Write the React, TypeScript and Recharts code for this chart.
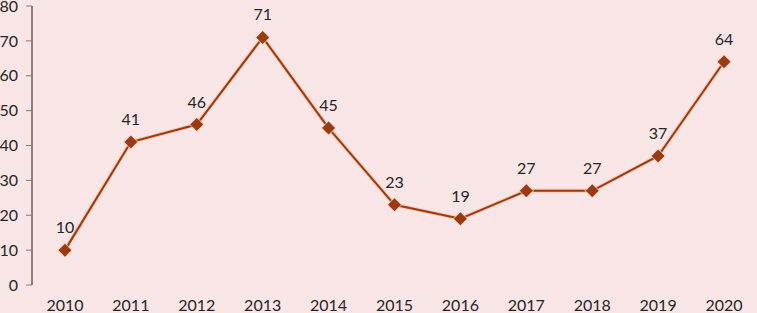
import React from "react";
import { LineChart, Line, XAxis, YAxis, LabelList } from "recharts";

const years = ["2010", "2011", "2012", "2013", "2014", "2015", "2016", "2017", "2018", "2019", "2020"];
const values = [10, 41, 46, 71, 45, 23, 19, 27, 27, 37, 64];
const yTicks = [0, 10, 20, 30, 40, 50, 60, 70, 80];

const data = years.map((y, i) => ({ idx: i, year: y, value: values[i] }));
const centerTicks = years.map((_, i) => i);
const edgeTicks = [...years.map((_, i) => i - 0.5), years.length - 0.5];

const LINE = "#9a3a10";
const TEXT = "#262626";
const FONT = "Lato, 'Open Sans', sans-serif";
const FS = 16;

const Diamond = (props: any) => {
  const { cx, cy } = props;
  if (cx == null || cy == null) return null;
  const r = 6.5;
  return (
    <g>
      <polygon
        points={`${cx},${cy - r - 1.5} ${cx + r + 1.5},${cy} ${cx},${cy + r + 1.5} ${cx - r - 1.5},${cy}`}
        fill="#f6d3c6"
        opacity={0.6}
      />
      <polygon
        points={`${cx},${cy - r} ${cx + r},${cy} ${cx},${cy + r} ${cx - r},${cy}`}
        fill={LINE}
      />
    </g>
  );
};

export default function App() {
  return (
    <div style={{ position: "fixed", left: 0, top: 0, width: 757, height: 313, background: "#f8e5e5" }}>
      <LineChart width={757} height={313} data={data} margin={{ top: 6, right: 0, bottom: 0, left: 0 }}>
        <XAxis
          xAxisId="lab"
          dataKey="idx"
          type="number"
          domain={[-0.5, years.length - 0.5]}
          ticks={centerTicks}
          interval={0}
          tickFormatter={(v: number) => years[v]}
          axisLine={false}
          tickLine={false}
          tickMargin={9}
          height={28}
          tick={{ fill: TEXT, fontSize: FS, fontFamily: FONT }}
        />
        <XAxis
          xAxisId="edge"
          dataKey="idx"
          type="number"
          domain={[-0.5, years.length - 0.5]}
          ticks={edgeTicks}
          interval={0}
          tick={false}
          axisLine={{ stroke: "#1a1a1a" }}
          tickLine={{ stroke: "#7a7a7a" }}
          tickSize={5}
          height={0}
          orientation="bottom"
        />
        <YAxis
          domain={[0, 80]}
          ticks={yTicks}
          interval={0}
          width={32}
          axisLine={{ stroke: "#1a1a1a" }}
          tickLine={{ stroke: "#7a7a7a" }}
          tickSize={6}
          tickMargin={8}
          tick={{ fill: TEXT, fontSize: FS, fontFamily: FONT }}
        />
        <Line
          xAxisId="lab"
          dataKey="value"
          stroke="#f3c8b4"
          strokeWidth={4}
          dot={false}
          activeDot={false}
          isAnimationActive={false}
        />
        <Line
          xAxisId="lab"
          dataKey="value"
          stroke={LINE}
          strokeWidth={2}
          dot={<Diamond />}
          activeDot={false}
          isAnimationActive={false}
        >
          <LabelList dataKey="value" position="top" offset={17} fill={TEXT} fontSize={FS} fontFamily={FONT} />
        </Line>
      </LineChart>
    </div>
  );
}
